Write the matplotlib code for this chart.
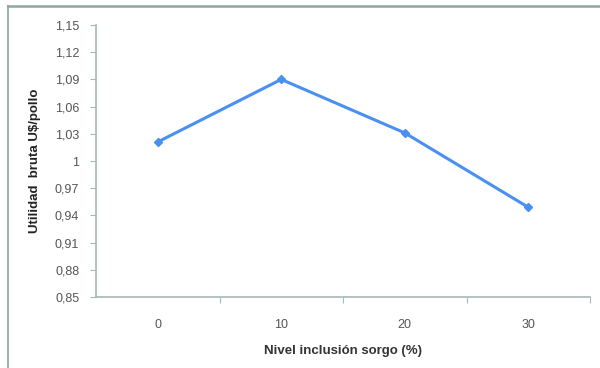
import matplotlib
matplotlib.use("Agg")
import matplotlib.pyplot as plt
from matplotlib.lines import Line2D
from matplotlib.ticker import FuncFormatter

# Datos
niveles = ["0", "10", "20", "30"]
utilidad = [1.021, 1.090, 1.031, 0.949]
y_ticks = [0.85, 0.88, 0.91, 0.94, 0.97, 1.00, 1.03, 1.06, 1.09, 1.12, 1.15]

axis_color = "#a7b8b8"
line_color = "#4a8ff2"
text_color = "#555555"

plt.rcParams['font.family'] = ['Liberation Sans', 'DejaVu Sans']

fig = plt.figure(figsize=(6, 3.68), dpi=100)
ax = fig.add_axes([96 / 600, 1 - 297 / 368, 494 / 600, 272 / 368])

x = list(range(len(niveles)))
ax.plot(x, utilidad, color=line_color, linewidth=2.2, marker="D", markersize=4.5,
        markerfacecolor=line_color, markeredgecolor=line_color)

ax.set_xlim(-0.5, len(niveles) - 0.5)
ax.set_ylim(0.85, 1.15)
ax.set_yticks(y_ticks)


def fmt_coma(v, pos):
    s = f"{v:.2f}".rstrip("0").rstrip(".")
    return s.replace(".", ",")


ax.yaxis.set_major_formatter(FuncFormatter(fmt_coma))

# ticks de categoria entre grupos (estilo Excel)
ax.set_xticks([i + 0.5 for i in x])
ax.set_xticklabels([])
ax.set_xticks(x, minor=True)
ax.set_xticklabels(niveles, minor=True)
ax.tick_params(axis="x", which="minor", length=0, pad=16, labelsize=9, labelcolor=text_color)
ax.tick_params(axis="x", which="major", length=4, direction="out", color=axis_color)
ax.tick_params(axis="y", length=4, direction="out", color=axis_color, labelsize=9,
               labelcolor=text_color, pad=8)

for side in ["top", "right"]:
    ax.spines[side].set_visible(False)
for side in ["left", "bottom"]:
    ax.spines[side].set_color(axis_color)
    ax.spines[side].set_linewidth(1.2)

ax.set_xlabel("Nivel inclusión sorgo (%)", fontsize=9.5, fontweight="bold", color="#333333", labelpad=10)
ax.set_ylabel("Utilidad  bruta U$/pollo", fontsize=9.5, fontweight="bold", color="#222222", labelpad=10)

# marco exterior (solo izquierda y arriba visibles)
fig.add_artist(Line2D([8 / 600, 8 / 600], [0, 1 - 6 / 368], transform=fig.transFigure,
                      color="#9fb3b3", linewidth=1.5))
fig.add_artist(Line2D([8 / 600, 1], [1 - 6 / 368, 1 - 6 / 368], transform=fig.transFigure,
                      color="#8fa5a5", linewidth=1.8))

fig.savefig("out.png", dpi=100)
